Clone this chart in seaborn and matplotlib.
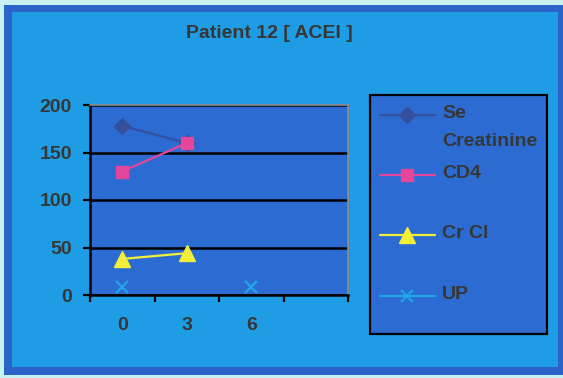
import numpy as np
import pandas as pd
import matplotlib
matplotlib.use("Agg")
import matplotlib.pyplot as plt
from matplotlib.patches import Rectangle
import seaborn as sns

# ---- data ----
months = ["0", "3", "6", ""]
se_creatinine = [178, 160, np.nan, np.nan]
cd4 = [130, 160, np.nan, np.nan]
cr_cl = [38, 44, np.nan, np.nan]
up = [8, np.nan, 8, np.nan]
series_names = ["Se\nCreatinine", "CD4", "Cr Cl", "UP"]
y_ticks = [0, 50, 100, 150, 200]

title = "Patient 12 [ ACEI ]"

# ---- style ----
sns.set_theme(style="white")
plt.rcParams["font.family"] = ["Liberation Sans", "DejaVu Sans"]
plt.rcParams["font.weight"] = "bold"

outer_bg = "#c8f2f2"
border_blue = "#2a64c8"
chart_bg = "#1f9de4"
plot_bg = "#2c6cd2"
text_col = "#363636"
FS = 14

styles = {
    "Se\nCreatinine": dict(color="#34509c", marker="D", markersize=8),
    "CD4": dict(color="#e4469c", marker="s", markersize=9),
    "Cr Cl": dict(color="#f2ee3a", marker="^", markersize=11),
    "UP": dict(color="#22a6e6", marker="x", markersize=9, markeredgewidth=1.6),
}

W, H = 563, 378
DPI = 100
fig = plt.figure(figsize=(W / DPI, H / DPI), dpi=DPI)
fig.patch.set_facecolor(outer_bg)

# chart frame: dark border with lighter inner area
fig.patches.append(Rectangle((4 / W, 1 - 375 / H), (W - 4) / W, (375 - 5) / H,
                             transform=fig.transFigure, facecolor=border_blue,
                             edgecolor="none", zorder=-10))
fig.patches.append(Rectangle((12 / W, 1 - 367 / H), (558 - 12) / W, (367 - 12) / H,
                             transform=fig.transFigure, facecolor=chart_bg,
                             edgecolor="none", zorder=-9))

ax = fig.add_axes([90 / W, 1 - 295 / H, (348 - 90) / W, (295 - 105) / H])
ax.set_facecolor(plot_bg)

values = [se_creatinine, cd4, cr_cl, up]
for name, vals in zip(series_names, values):
    df = pd.DataFrame({"pos": np.arange(len(months)), "val": vals})
    # break the line wherever a value is missing
    df["seg"] = df["val"].isna().cumsum()
    df = df.dropna()
    st = styles[name]
    sns.lineplot(data=df, x="pos", y="val", units="seg", estimator=None,
                 ax=ax, color=st["color"], linewidth=1.6,
                 marker=st["marker"], markersize=st["markersize"],
                 markeredgecolor=st["color"], markerfacecolor=st["color"],
                 markeredgewidth=st.get("markeredgewidth", 1.0),
                 label=name, zorder=5)

ax.set_xlim(-0.5, len(months) - 0.5)
ax.set_ylim(0, 200)
ax.set_xlabel("")
ax.set_ylabel("")

# y axis
ax.set_yticks(y_ticks)
ax.set_yticklabels([str(v) for v in y_ticks])
ax.yaxis.grid(True, color="black", linewidth=1.8)
ax.xaxis.grid(False)
ax.set_axisbelow(True)

# x axis: tick marks between categories, labels at centres
ax.set_xticks(np.arange(len(months) + 1) - 0.5)
ax.set_xticklabels([""] * (len(months) + 1))
ax.set_xticks(np.arange(len(months)), minor=True)
ax.set_xticklabels(months, minor=True)
ax.tick_params(axis="x", which="major", length=5, width=1.6, color="black",
               direction="out", bottom=True)
ax.tick_params(axis="x", which="minor", length=0, pad=16,
               labelsize=FS, labelcolor=text_col)
ax.tick_params(axis="y", length=5, width=1.6, color="black", direction="out",
               left=True, pad=8, labelsize=FS, labelcolor=text_col)

for side in ["left", "bottom"]:
    ax.spines[side].set_color("black")
    ax.spines[side].set_linewidth(1.8)
for side in ["top", "right"]:
    ax.spines[side].set_color("#8c8c8c")
    ax.spines[side].set_linewidth(1.2)

fig.text(269 / W, 1 - 33 / H, title, ha="center", va="center",
         fontsize=FS, fontweight="bold", color=text_col)

# ---- legend: one entry per series, marker level with the first text line ----
handles, labels = ax.get_legend_handles_labels()
by_label = {}
for h, l in zip(handles, labels):
    by_label.setdefault(l, h)
if ax.get_legend():
    ax.get_legend().remove()

# every entry is laid out two lines tall so the rows are evenly spaced
leg_labels = [l if "\n" in l else l + "\n" for l in by_label]
line_spacings = [1.9, 1.9, 1.9, 1.35]
leg = fig.legend(list(by_label.values()), leg_labels, loc="upper left",
                 bbox_to_anchor=(370 / W, 1 - 95 / H),
                 bbox_transform=fig.transFigure, borderaxespad=0,
                 frameon=True, fancybox=False, framealpha=1,
                 facecolor=plot_bg, edgecolor="black",
                 prop=dict(size=FS, weight="bold"),
                 labelcolor=text_col, handlelength=2.85, handletextpad=0.35,
                 borderpad=0.5, labelspacing=0.75)
leg.get_frame().set_linewidth(1.6)

# raise each handle from the block centre to the first text line
renderer = fig.canvas.get_renderer()
_, lp_h, lp_d = renderer.get_text_width_height_descent(
    "lp", leg.texts[0].get_fontproperties(), ismath=False)
for t, lh, ls in zip(leg.texts, leg.legend_handles, line_spacings):
    t.set_linespacing(ls)
    dy_pt = 0.5 * (lp_h - lp_d) * ls * 72 / DPI
    lh.set_ydata(np.asarray(lh.get_ydata()) + dy_pt)

fig.savefig("out.png", dpi=DPI, facecolor=fig.get_facecolor())
